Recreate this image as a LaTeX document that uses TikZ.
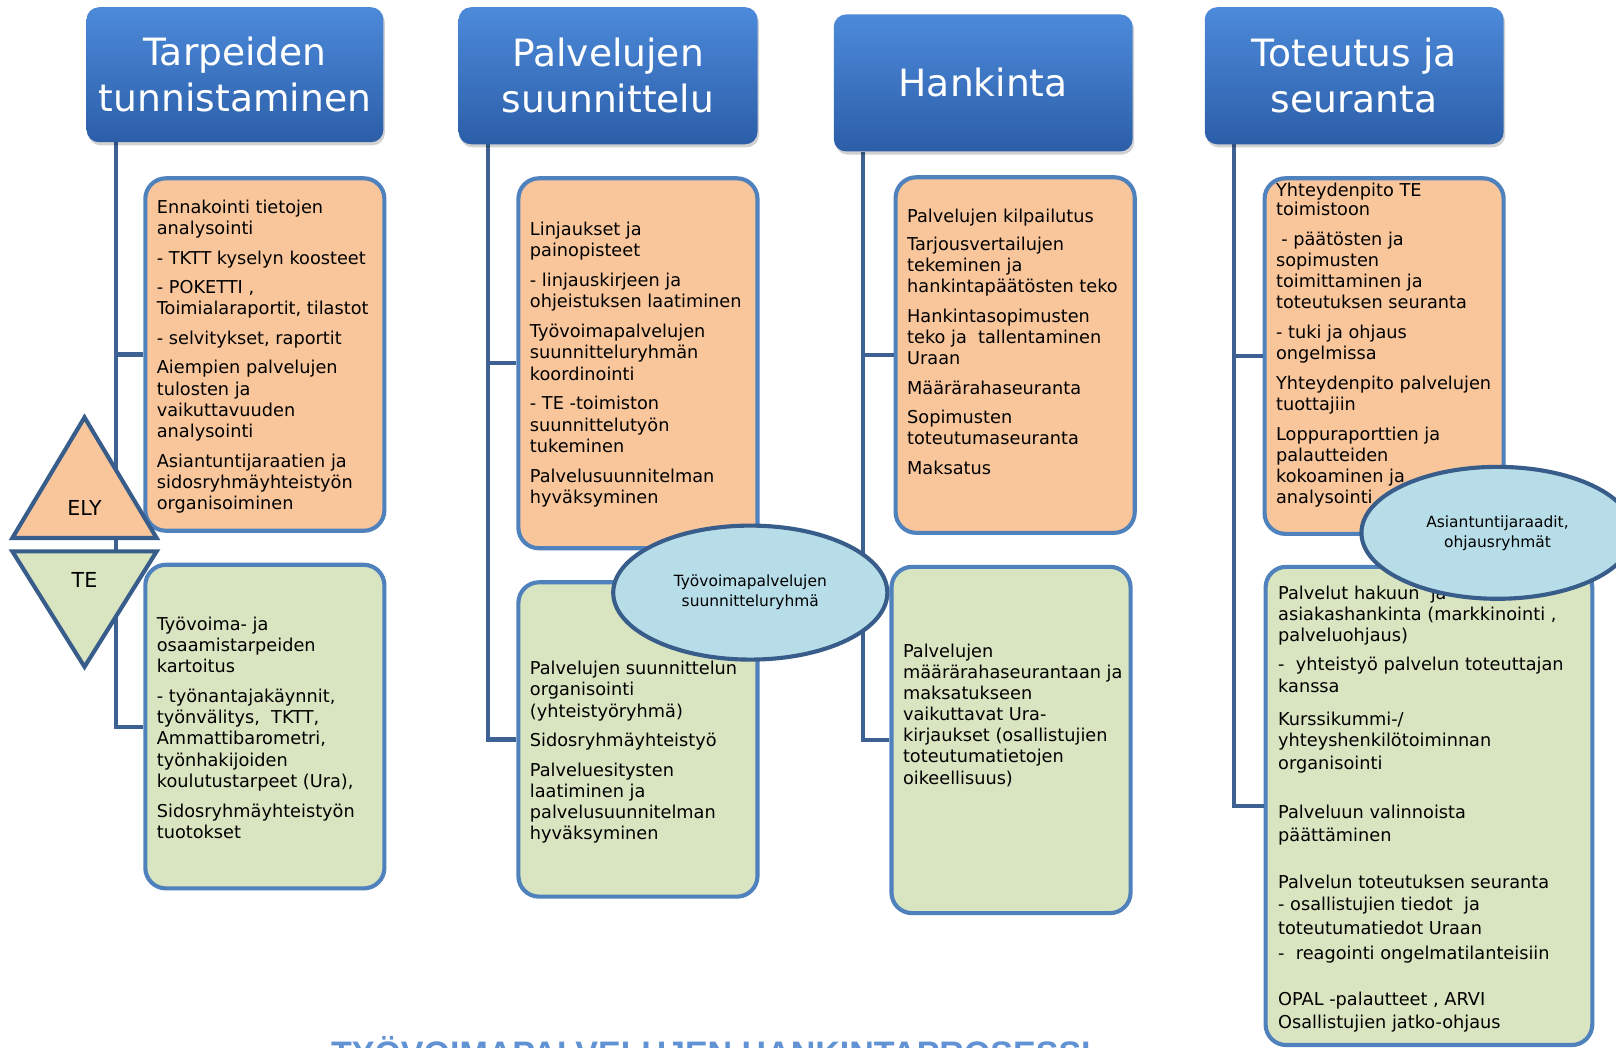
\documentclass[tikz,border=0pt]{standalone}
\usepackage{fontspec}
\setmainfont{DejaVu Sans}
\newfontfamily\ttlfont{Liberation Sans}
\usetikzlibrary{shapes.geometric,calc,shadows}

\definecolor{hTop}{RGB}{76,138,218}
\definecolor{hBot}{RGB}{44,94,168}
\definecolor{conncol}{RGB}{60,97,146}
\definecolor{boxborder}{RGB}{79,129,189}
\definecolor{orangefill}{RGB}{249,198,155}
\definecolor{greenfill}{RGB}{217,228,192}
\definecolor{ellfill}{RGB}{183,221,232}
\definecolor{darkborder}{RGB}{56,93,138}
\definecolor{titleblue}{RGB}{96,146,212}

\newcommand{\bodyfont}{\fontsize{17.2}{20.5}\selectfont}

\begin{document}
\begin{tikzpicture}[x=1pt,y=-1pt,
  header/.style={rectangle, rounded corners=12pt, top color=hTop, bottom color=hBot,
    draw=none, text=white, align=center, font=\fontsize{36.5}{45}\selectfont, inner sep=0pt,
    drop shadow={shadow xshift=1.5pt, shadow yshift=-3pt, fill=black, opacity=0.18}},
  conn/.style={draw=conncol, line width=4pt},
  card/.style={rectangle, rounded corners=20pt, draw=boxborder, line width=4pt, inner sep=0pt},
  obox/.style={card, fill=orangefill},
  gbox/.style={card, fill=greenfill},
  txt/.style={anchor=north west, inner sep=0pt, align=left, font=\bodyfont, yshift=-2.5pt},
  ell/.style={ellipse, draw=darkborder, line width=4pt, fill=ellfill, align=center,
    inner sep=0pt, font=\fontsize{15}{19.5}\selectfont},
  tri/.style={draw=darkborder, line width=4pt, line join=miter},
  trilabel/.style={inner sep=0pt, font=\fontsize{20}{24}\selectfont},
]
\useasboundingbox (0,0) rectangle (1568,1016);
\begin{scope}
\clip (0,0) rectangle (1568,1016);
\fill[white] (0,0) rectangle (1568,1016);

% header anchors (connectors refer to them; headers drawn on top below)
\path (228,72.5) node[minimum width=288pt, minimum height=131pt, inner sep=0pt] (h1) {};
\path (590,73.5) node[minimum width=290pt, minimum height=133pt, inner sep=0pt] (h2) {};
\path (954,80.5) node[minimum width=290pt, minimum height=133pt, inner sep=0pt] (h3) {};
\path (1314,73.5) node[minimum width=290pt, minimum height=133pt, inner sep=0pt] (h4) {};

% boxes
\node[obox, minimum width=232pt, minimum height=342pt] (o1) at (257,344) {};
\node[gbox, minimum width=232pt, minimum height=314pt] (g1) at (257,705) {};
\node[obox, minimum width=232pt, minimum height=359pt] (o2) at (619,352.5) {};
\node[gbox, minimum width=232pt, minimum height=305pt] (g2) at (619,717.5) {};
\node[obox, minimum width=232pt, minimum height=345pt] (o3) at (985,344.5) {};
\node[gbox, minimum width=232pt, minimum height=336pt] (g3) at (981,718) {};
\node[obox, minimum width=232pt, minimum height=345pt] (o4) at (1343,345.5) {};
\node[gbox, minimum width=317pt, minimum height=464pt] (g4) at (1386.5,782) {};

% connectors
\foreach \i in {1,2,3,4}{
  \coordinate (t\i) at ($(h\i.south west)+(28.5,0)$);
  \draw[conn] (t\i) |- (g\i.west);
  \draw[conn] (t\i |- o\i.west) -- (o\i.west);
}

% texts
\node[txt] (o1t) at (152,191) {Ennakointi tietojen\\analysointi\\[8.5pt]
- TKTT kyselyn koosteet\\[8pt]
- POKETTI ,\\Toimialaraportit, tilastot\\[8.5pt]
- selvitykset, raportit\\[8pt]
Aiempien palvelujen\\tulosten ja\\vaikuttavuuden\\analysointi\\[8.5pt]
Asiantuntijaraatien ja\\sidosryhmäyhteistyön\\organisoiminen};

\node[txt] (g1t) at (152,596) {Työvoima- ja\\osaamistarpeiden\\kartoitus\\[8.5pt]
- työnantajakäynnit,\\työnvälitys,\ \ TKTT,\\Ammattibarometri,\\työnhakijoiden\\koulutustarpeet (Ura),\\[8.5pt]
Sidosryhmäyhteistyön\\tuotokset};

\node[txt] (o2t) at (514,213) {Linjaukset ja\\painopisteet\\[8.5pt]
- linjauskirjeen ja\\ohjeistuksen laatiminen\\[8.5pt]
Työvoimapalvelujen\\suunnitteluryhmän\\koordinointi\\[8.5pt]
- TE -toimiston\\suunnittelutyön\\tukeminen\\[8.5pt]
Palvelusuunnitelman\\hyväksyminen};

\node[txt] (g2t) at (514,639) {Palvelujen suunnittelun\\organisointi\\(yhteistyöryhmä)\\[8pt]
Sidosryhmäyhteistyö\\[8.5pt]
Palveluesitysten\\laatiminen ja\\palvelusuunnitelman\\hyväksyminen};

\node[txt] (o3t) at (880,200) {Palvelujen kilpailutus\\[6.5pt]
Tarjousvertailujen\\tekeminen ja\\hankintapäätösten teko\\[8.5pt]
Hankintasopimusten\\teko ja\ \ tallentaminen\\Uraan\\[8.5pt]
Määrärahaseuranta\\[7.5pt]
Sopimusten\\toteutumaseuranta\\[8.5pt]
Maksatus};

\node[txt] (g3t) at (876,622) {Palvelujen\\määrärahaseurantaan ja\\maksatukseen\\vaikuttavat Ura-\\kirjaukset (osallistujien\\toteutumatietojen\\oikeellisuus)};

\node[txt] (o4t) at (1238,174.5) {Yhteydenpito TE\\[-1.5pt]toimistoon\\[8.5pt]
\hspace*{5pt}- päätösten ja\\sopimusten\\toimittaminen ja\\toteutuksen seuranta\\[8.5pt]
- tuki ja ohjaus\\ongelmissa\\[8pt]
Yhteydenpito palvelujen\\tuottajiin\\[8.5pt]
Loppuraporttien ja\\palautteiden\\kokoaminen ja\\analysointi};

\node[txt] (g4t) at (1240,566) {Palvelut hakuun\ \ ja\\[-0.5pt]
asiakashankinta (markkinointi ,\\[0.5pt]
palveluohjaus)\\[7.5pt]
-\ \ yhteistyö palvelun toteuttajan\\[0.5pt]
kanssa\\[11.5pt]
Kurssikummi-/\\[0.5pt]
yhteyshenkilötoiminnan\\[1.5pt]
organisointi\\[26.5pt]
Palveluun valinnoista\\[2.5pt]
päättäminen\\[24.5pt]
Palvelun toteutuksen seuranta\\[1.5pt]
- osallistujien tiedot\ \ ja\\[2.5pt]
toteutumatiedot Uraan\\[3.5pt]
-\ \ reagointi ongelmatilanteisiin\\[24.5pt]
OPAL -palautteet , ARVI\\[1.5pt]
Osallistujien jatko-ohjaus};

% triangles
\draw[tri, fill=orangefill] (82,405) -- (152,522) -- (12,522) -- cycle;
\node[trilabel] (ely) at (82,493) {ELY};
\draw[tri, fill=greenfill] (12,535) -- (152,535) -- (82,647) -- cycle;
\node[trilabel] (te) at (82,563) {TE};

% ellipses
\node[ell, minimum width=266pt, minimum height=130pt] (e1) at (728,575) {Työvoimapalvelujen\\suunnitteluryhmä};
\node[ell, minimum width=264pt, minimum height=128pt] (e2) at (1453,517) {Asiantuntijaraadit,\\ohjausryhmät};

% headers on top
\node[header, minimum width=288pt, minimum height=131pt] (H1) at (h1) {Tarpeiden\\tunnistaminen};
\node[header, minimum width=290pt, minimum height=133pt] (H2) at (h2) {Palvelujen\\suunnittelu};
\node[header, minimum width=290pt, minimum height=133pt] (H3) at (h3) {Hankinta};
\node[header, minimum width=290pt, minimum height=133pt] (H4) at (h4) {Toteutus ja\\seuranta};

% title (cut off at the bottom edge, as in the reference)
\node[anchor=base west, inner sep=0pt, text=titleblue,
  font=\ttlfont\bfseries\fontsize{33}{36}\selectfont] (title) at (321,1034) {TYÖVOIMAPALVELUJEN HANKINTAPROSESSI};
\end{scope}
\end{tikzpicture}
\end{document}
